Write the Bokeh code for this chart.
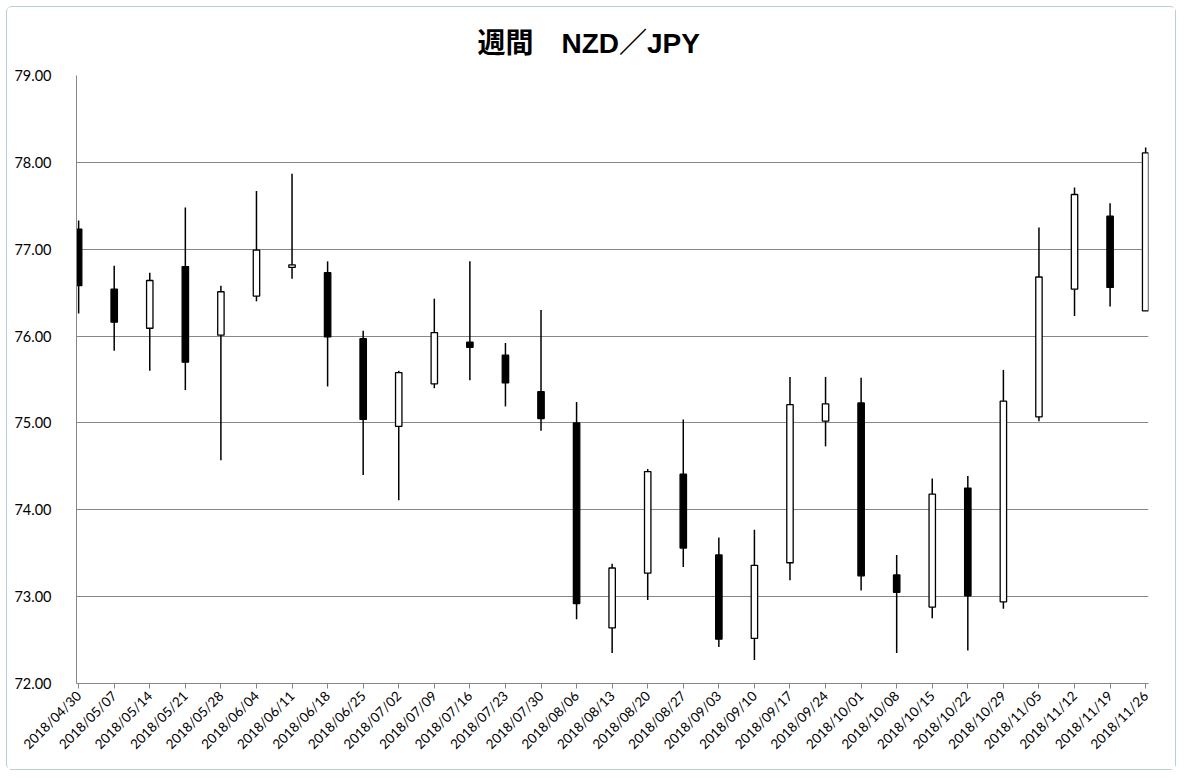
import math
from bokeh.plotting import figure
from bokeh.models import (ColumnDataSource, Range1d, FixedTicker, NumeralTickFormatter, Title)
from bokeh.embed import file_html
from bokeh.resources import INLINE

dates = ["2018/04/30", "2018/05/07", "2018/05/14", "2018/05/21", "2018/05/28", "2018/06/04",
         "2018/06/11", "2018/06/18", "2018/06/25", "2018/07/02", "2018/07/09", "2018/07/16",
         "2018/07/23", "2018/07/30", "2018/08/06", "2018/08/13", "2018/08/20", "2018/08/27",
         "2018/09/03", "2018/09/10", "2018/09/17", "2018/09/24", "2018/10/01", "2018/10/08",
         "2018/10/15", "2018/10/22", "2018/10/29", "2018/11/05", "2018/11/12", "2018/11/19",
         "2018/11/26"]
opens = [77.23, 76.54, 76.09, 76.80, 76.01, 76.46, 76.79, 76.73, 75.97, 74.96, 75.45, 75.93,
         75.78, 75.36, 75.00, 72.64, 73.27, 74.41, 73.48, 72.52, 73.39, 75.02, 75.23, 73.25,
         72.88, 74.25, 72.94, 75.07, 76.54, 77.38, 76.29]
highs = [77.33, 76.81, 76.73, 77.48, 76.58, 77.67, 77.87, 76.86, 76.06, 75.60, 76.43, 76.86,
         75.92, 76.30, 75.24, 73.38, 74.47, 75.04, 73.68, 73.77, 75.53, 75.53, 75.52, 73.48,
         74.36, 74.39, 75.61, 77.25, 77.71, 77.53, 78.17]
lows = [76.26, 75.83, 75.60, 75.38, 74.57, 76.40, 76.66, 75.42, 74.40, 74.11, 75.40, 75.49,
        75.19, 74.91, 72.74, 72.35, 72.96, 73.34, 72.42, 72.27, 73.19, 74.73, 73.07, 72.35,
        72.75, 72.38, 72.86, 75.02, 76.23, 76.34, 76.29]
closes = [76.58, 76.16, 76.64, 75.70, 76.51, 76.99, 76.82, 75.99, 75.04, 75.58, 76.04, 75.87,
          75.46, 75.05, 72.92, 73.33, 74.44, 73.56, 72.51, 73.36, 75.21, 75.22, 73.24, 73.05,
          74.18, 73.01, 75.25, 76.68, 77.63, 76.56, 78.11]
y_ticks = [72, 73, 74, 75, 76, 77, 78, 79]

xs = list(range(len(dates)))
src = ColumnDataSource(dict(
    x=xs, o=opens, h=highs, l=lows, c=closes,
    top=[max(a, b) for a, b in zip(opens, closes)],
    bottom=[min(a, b) for a, b in zip(opens, closes)],
    fill=["#000000" if c < o else "#ffffff" for o, c in zip(opens, closes)],
))

# canvas sits inside a 6px margin + 1px border -> canvas origin at (7, 7)
p = figure(width=1170, height=764, output_backend="svg", toolbar_location=None,
           x_range=Range1d(-0.06, 30.08), y_range=Range1d(72, 79),
           min_border_left=69, min_border_right=29, min_border_top=68, min_border_bottom=88,
           margin=(6, 6, 6, 6),
           styles={"border": "1px solid #b9cfd2", "border-radius": "6px"})
p.title = Title(text="週間　NZD／JPY", align="left", offset=401,
                text_font="'Liberation Sans', 'Noto Sans CJK JP'", text_font_size="28px",
                text_font_style="bold", text_color="#000000", standoff=34)
p.outline_line_color = None
p.background_fill_color = "#ffffff"
p.border_fill_color = "#ffffff"

p.xgrid.grid_line_color = None
p.ygrid.grid_line_color = "#878787"
p.ygrid.grid_line_width = 1
p.ygrid.ticker = FixedTicker(ticks=y_ticks)

p.yaxis.ticker = FixedTicker(ticks=y_ticks)
p.yaxis.formatter = NumeralTickFormatter(format="0.00")
p.yaxis.major_tick_line_color = None
p.yaxis.minor_tick_line_color = None
p.yaxis.axis_line_color = "#878787"
p.yaxis.major_label_standoff = 19
p.yaxis.major_label_text_font = "Lato"
p.yaxis.major_label_text_font_size = "14.5px"
p.yaxis.major_label_text_color = "#000000"

p.xaxis.ticker = FixedTicker(ticks=xs)
p.xaxis.major_label_overrides = {i: d for i, d in enumerate(dates)}
p.xaxis.major_label_orientation = math.pi / 4
p.xaxis.major_tick_out = 5
p.xaxis.major_tick_in = 0
p.xaxis.major_tick_line_color = "#878787"
p.xaxis.minor_tick_line_color = None
p.xaxis.axis_line_color = "#878787"
p.xaxis.major_label_standoff = 5
p.xaxis.major_label_text_font = "Lato"
p.xaxis.major_label_text_font_size = "13.5px"
p.xaxis.major_label_text_color = "#000000"

p.segment(x0="x", y0="l", x1="x", y1="h", source=src, line_color="#000000", line_width=1.5)
p.vbar(x="x", top="top", bottom="bottom", width=0.18, source=src,
       fill_color="fill", line_color="#000000", line_width=1.3)

open("out.html", "w").write(file_html(p, INLINE))
